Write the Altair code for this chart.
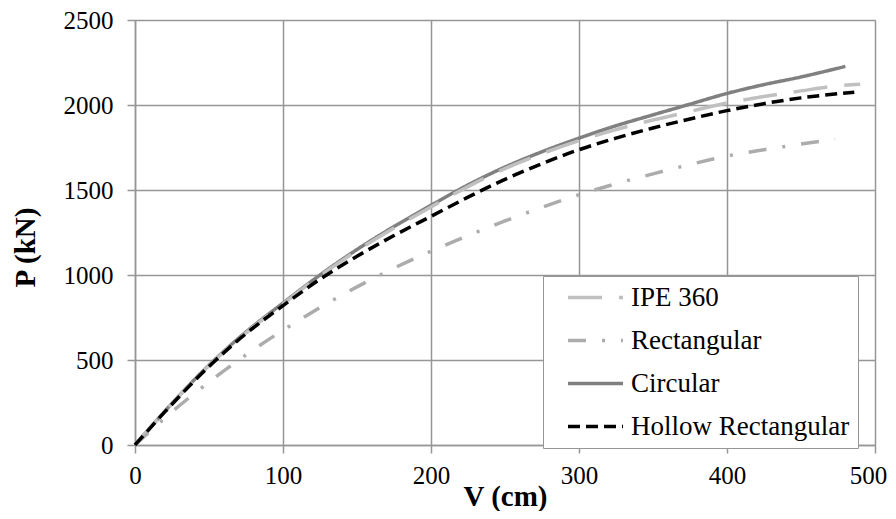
import altair as alt
import pandas as pd

# ---- data ----
series_order = ["IPE 360", "Rectangular", "Circular", "Hollow Rectangular"]

circ_x = [0, 25, 50, 75, 100, 125, 150, 175, 200, 225, 250, 275, 300, 325, 350, 375, 400, 425, 450, 480]
circ_y = [0, 245, 470, 665, 835, 1000, 1150, 1285, 1410, 1530, 1635, 1725, 1805, 1878, 1942, 2005, 2068, 2120, 2165, 2227]

ipe_x = [0, 25, 50, 75, 100, 125, 150, 175, 200, 225, 250, 275, 300, 325, 350, 375, 400, 425, 450, 475, 490]
ipe_y = [0, 243, 467, 660, 830, 995, 1143, 1277, 1400, 1520, 1626, 1714, 1790, 1855, 1912, 1962, 2012, 2050, 2083, 2113, 2122]

rect_x = [0, 25, 50, 75, 100, 125, 150, 175, 200, 225, 250, 275, 300, 325, 350, 375, 400, 425, 450, 473]
rect_y = [0, 195, 370, 530, 675, 808, 930, 1040, 1140, 1232, 1318, 1398, 1472, 1537, 1595, 1650, 1700, 1737, 1770, 1798]

hol_x = [0, 25, 50, 75, 100, 125, 150, 175, 200, 225, 250, 275, 300, 325, 350, 375, 400, 425, 450, 486]
hol_y = [0, 240, 462, 655, 820, 975, 1110, 1232, 1345, 1458, 1563, 1655, 1737, 1805, 1865, 1918, 1967, 2008, 2042, 2075]

x_ticks = [0, 100, 200, 300, 400, 500]
y_ticks = [0, 500, 1000, 1500, 2000, 2500]

rows = []
for name, xs, ys in [("Circular", circ_x, circ_y), ("IPE 360", ipe_x, ipe_y),
                     ("Rectangular", rect_x, rect_y), ("Hollow Rectangular", hol_x, hol_y)]:
    for i, (a, b) in enumerate(zip(xs, ys)):
        rows.append({"series": name, "V": a, "P": b, "order": i})
df = pd.DataFrame(rows)

FONT = "Liberation Serif"
GRID = "#969696"

legend_props = dict(orient="none", legendX=408, legendY=256, title=None,
                    symbolType="M-2.5,0H2.5", symbolSize=484,
                    symbolStrokeWidth=3.5, symbolOffset=31,
                    labelOffset=22, labelFont=FONT, labelFontSize=27,
                    labelColor="black", padding=8, rowPadding=15,
                    strokeColor=GRID, fillColor="white", labelLimit=400)

chart = alt.Chart(df).mark_line(strokeWidth=3.5, strokeCap="butt", interpolate="monotone").encode(
    x=alt.X("V:Q", scale=alt.Scale(domain=[0, 500], nice=False),
            axis=alt.Axis(values=x_ticks, format="d", title="V (cm)", titleFont=FONT, titleFontSize=29,
                          titleFontWeight="bold", titleColor="black",
                          titleBaseline="alphabetic", titleY=60,
                          labelFont=FONT, labelFontSize=25, labelColor="black",
                          labelPadding=10, tickSize=8, tickColor=GRID, domainColor=GRID,
                          gridColor=GRID, gridWidth=1.5, domainWidth=1.5, tickWidth=1.5,
                          labelFlush=False,
                          labelOffset=alt.condition("datum.value == 500", alt.value(-7), alt.value(0)))),
    y=alt.Y("P:Q", scale=alt.Scale(domain=[0, 2500], nice=False),
            axis=alt.Axis(values=y_ticks, format="d", title="P (kN)", titleFont=FONT, titleFontSize=29,
                          titleFontWeight="bold", titleColor="black",
                          titleBaseline="alphabetic", titleX=-101, titleY=227,
                          titleAlign="center", titleAngle=270,
                          labelFont=FONT, labelFontSize=25, labelColor="black",
                          labelPadding=14, tickSize=8, tickColor=GRID, domainColor=GRID,
                          gridColor=GRID, gridWidth=1.5, domainWidth=1.5, tickWidth=1.5,
                          labelFlush=False)),
    color=alt.Color("series:N",
                    scale=alt.Scale(domain=series_order,
                                    range=["#c0c0c0", "#acacac", "#808080", "#000000"]),
                    legend=alt.Legend(**legend_props)),
    strokeDash=alt.StrokeDash("series:N",
                              scale=alt.Scale(domain=series_order,
                                              range=[[34, 17], [18, 16, 3, 16], [1, 0], [12, 6]]),
                              legend=alt.Legend(**legend_props)),
    order="order:Q",
    detail="series:N",
).properties(
    width=740, height=425,
    autosize=alt.AutoSizeParams(type="none"),
    padding={"left": 127, "top": 12, "right": 13, "bottom": 66},
).configure_view(strokeWidth=0).configure(background="white")

chart.save("out.html", embed_options={"renderer": "svg", "actions": False})
